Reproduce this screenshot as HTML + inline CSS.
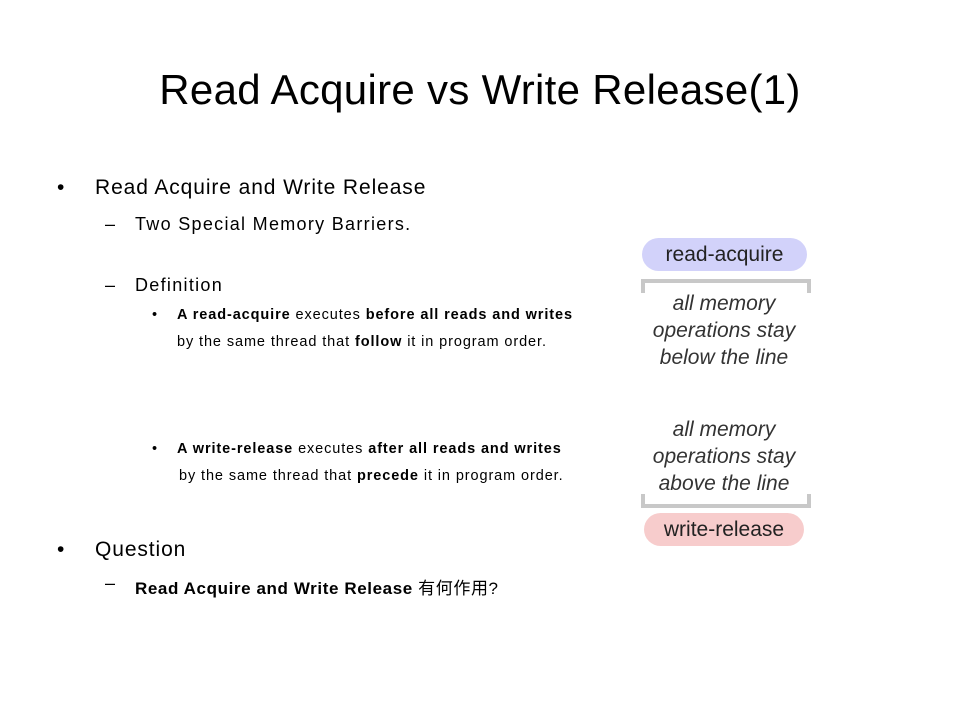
<!DOCTYPE html>
<html><head><style>
body{margin:0;width:960px;height:720px;background:#fff;position:relative;font-family:"Liberation Sans","Noto Sans CJK SC",sans-serif;color:#000;overflow:hidden}
.a{position:absolute;white-space:nowrap}
.t{font-size:42px;left:0;width:960px;text-align:center;top:66px;letter-spacing:0.3px}
.l1{font-size:21px;letter-spacing:0.9px}
.l2{font-size:18px;letter-spacing:1.3px}
.l3{font-size:14.5px;font-weight:bold;letter-spacing:0.9px}
.it{font-style:italic;font-size:21px;color:#333;text-align:center;width:180px;line-height:27px}
.pill{position:absolute;border-radius:17px;text-align:center;font-size:21px;line-height:33px;color:#222}
</style></head><body>
<div class="a t">Read Acquire vs Write Release(1)</div>
<div class="a" style="left:57px;top:176px;font-size:21px">•</div>
<div class="a l1" style="left:95px;top:176px">Read Acquire and Write Release</div>
<div class="a" style="left:105px;top:214px;font-size:18px">–</div>
<div class="a l2" style="left:135px;top:214px">Two Special Memory Barriers.</div>
<div class="a" style="left:105px;top:275px;font-size:18px">–</div>
<div class="a l2" style="left:135px;top:275px">Definition</div>
<div class="a" style="left:152px;top:307px;font-size:14.5px">•</div>
<div class="a l3" style="left:177px;top:307px">A read-acquire <span style="font-weight:normal">executes</span> before all reads and writes</div>
<div class="a l3" style="left:177px;top:334px"><span style="font-weight:normal">by the same thread that</span> follow <span style="font-weight:normal">it in program order.</span></div>
<div class="a" style="left:152px;top:441px;font-size:14.5px">•</div>
<div class="a l3" style="left:177px;top:441px">A write-release <span style="font-weight:normal">executes</span> after all reads and writes</div>
<div class="a l3" style="left:179px;top:468px"><span style="font-weight:normal">by the same thread that</span> precede <span style="font-weight:normal">it in program order.</span></div>
<div class="a" style="left:57px;top:538px;font-size:21px">•</div>
<div class="a l1" style="left:95px;top:538px">Question</div>
<div class="a" style="left:105px;top:573px;font-size:18px">–</div>
<div class="a" style="left:135px;top:574px;font-size:17px;font-weight:bold;letter-spacing:0.6px">Read Acquire and Write Release <span style="font-weight:normal">有何作用?</span></div>

<div class="pill" style="left:642px;top:238px;width:165px;height:33px;background:#d2d2fa">read-acquire</div>
<div class="a" style="left:641px;top:279px;width:162px;height:10px;border:4px solid #c8c8c8;border-bottom:none"></div>
<div class="a it" style="left:634px;top:290px">all memory<br>operations stay<br>below the line</div>
<div class="a it" style="left:634px;top:416px">all memory<br>operations stay<br>above the line</div>
<div class="a" style="left:641px;top:494px;width:162px;height:10px;border:4px solid #c8c8c8;border-top:none"></div>
<div class="pill" style="left:644px;top:513px;width:160px;height:33px;background:#f7cccc">write-release</div>
</body></html>
